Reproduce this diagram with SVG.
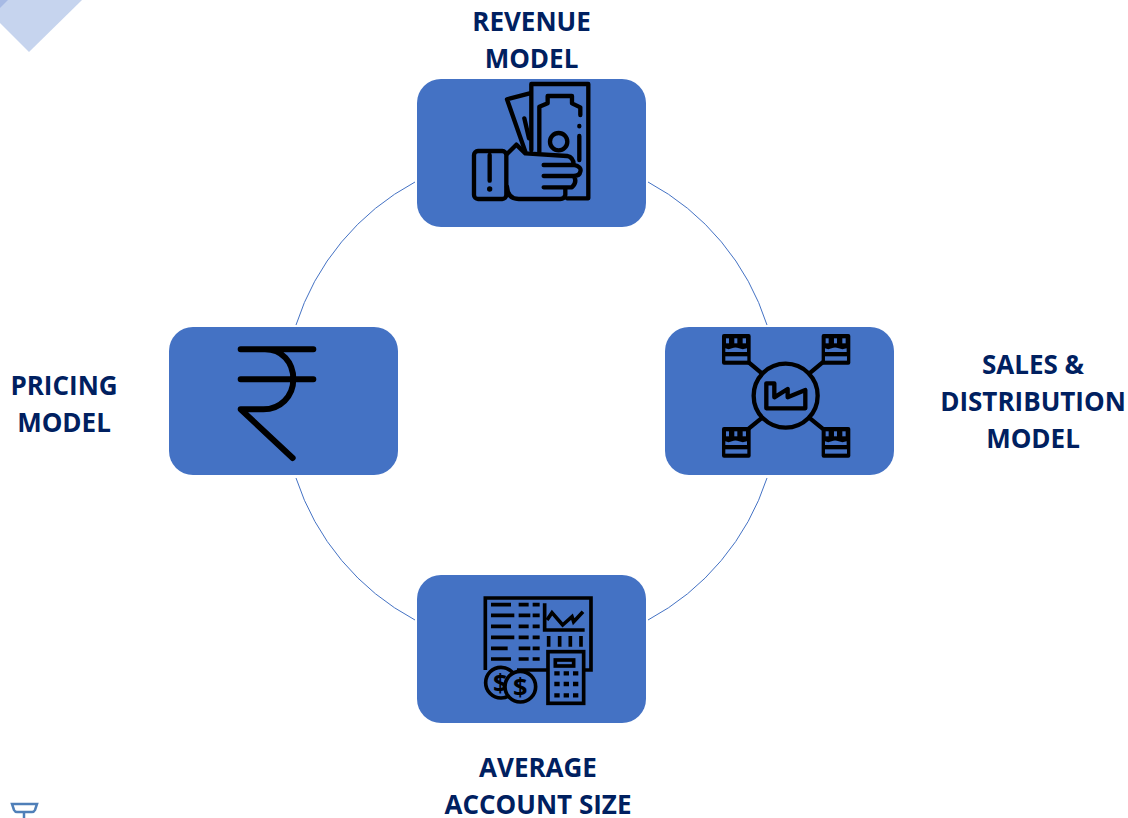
<svg xmlns="http://www.w3.org/2000/svg" width="1128" height="818" viewBox="0 0 1128 818">
<style>
.box{fill:#4472C4}
.arc{fill:none;stroke:#4472C4;stroke-width:1}
.lbl{font-family:"Open Sans","Liberation Sans",sans-serif;font-weight:700;font-size:26px;fill:#002060;text-anchor:middle}
.ico{fill:none;stroke:#000;stroke-width:13;stroke-linecap:round;stroke-linejoin:round}
.bar{fill:none;stroke:#000;stroke-width:11}
.key{fill:none;stroke:#000;stroke-width:13}
.rup{fill:none;stroke:#000;stroke-width:18;stroke-linecap:round;stroke-linejoin:round}
.coin{fill:#4472C4;stroke:#000;stroke-width:11}
.dol{font-family:"Open Sans","Liberation Sans",sans-serif;font-size:76px;font-weight:700;text-anchor:middle;fill:#000}
.k{fill:#000}
.w{fill:#4472C4}
</style>
<defs>
<g id="store">
<rect width="86" height="92" rx="6" class="k"/>
<rect x="12" y="13" width="9" height="15" class="w"/><rect x="37" y="13" width="9" height="15" class="w"/><rect x="62" y="13" width="10" height="15" class="w"/>
<path d="M10 43Q20 48 30 43T51 43T75 43V54H10Z" class="w"/>
<rect x="10" y="67" width="66" height="13" class="w"/>
</g>
</defs>
<rect width="1128" height="818" fill="#fff"/>
<g id="decor">
<path d="M0 0H82L29 52L0 23Z" fill="#C6D4EE"/>
<path d="M0 0H8L0 8Z" fill="#A7BAE4"/>
<path d="M12 804H37L35 810Q34 812 32 812H17Q15 812 14 810Z" fill="none" stroke="#4F7FB8" stroke-width="2.500"/>
<path d="M24 812V818" stroke="#4F7FB8" stroke-width="2.500"/>
</g>
<g id="connectors">
<path class="arc" d="M648 182A248 248 0 0 1 767 325"/>
<path class="arc" d="M767 478A248 248 0 0 1 648 620"/>
<path class="arc" d="M415 620A248 248 0 0 1 296 478"/>
<path class="arc" d="M296 325A248 248 0 0 1 415 182"/>
</g>
<g id="node-revenue">
<rect class="box" x="417" y="79" width="229" height="148" rx="24"/>
<g transform="translate(417 70) scale(.3333)">
<path class="ico" d="M343 240V42H514V385H450"/>
<path class="ico" d="M367 245V110L392 100V78H465V100L490 112V135"/>
<path class="ico" d="M487 168V169M487 198V270"/>
<circle class="ico" cx="425" cy="215" r="26"/>
<path class="ico" d="M338 70L270 88L325 245M322 145L336 205"/>
<rect class="ico" x="171" y="243" width="97" height="144" rx="12"/>
<path class="ico" d="M218 255V332"/>
<circle class="k" cx="218" cy="357" r="8"/>
<path class="ico" d="M270 252L298 224L325 250L450 258Q470 262 470 285H380M470 285Q495 290 490 305Q488 318 470 318H380M470 318Q482 335 465 352H380M445 352V375Q442 387 430 387H305Q272 387 270 350"/>
</g>
<text class="lbl" x="531.500" y="31">REVENUE</text>
<text class="lbl" x="531.500" y="68">MODEL</text>
</g>
<g id="node-sales">
<rect class="box" x="665" y="327" width="229" height="148" rx="24"/>
<g transform="translate(665 320) scale(.3333)">
<use href="#store" x="171" y="42"/><use href="#store" x="470" y="42"/><use href="#store" x="171" y="321"/><use href="#store" x="470" y="321"/>
<path class="ico" d="M252 128L288 158M472 128L436 158M252 325L288 296M472 325L436 296"/>
<circle class="ico" cx="362" cy="227" r="96"/>
<path class="ico" d="M304 190H328V232L368 207V232L421 210V265H304Z"/>
</g>
<text class="lbl" x="1033" y="374">SALES &amp;</text>
<text class="lbl" x="1033" y="411">DISTRIBUTION</text>
<text class="lbl" x="1033" y="448">MODEL</text>
</g>
<g id="node-account">
<rect class="box" x="417" y="575" width="229" height="148" rx="24"/>
<g transform="translate(417 570) scale(.3333)">
<path class="bar" d="M205 300V84H522V300H500M393 300H300"/>
<path class="bar" d="M222 104H282M222 136H292M222 169H282M222 202H292M222 235H272M222 267H282M305 104H335M305 136H340M305 169H335M305 202H335M305 235H340M305 267H335M347 104H368M347 136H368M347 169H368M347 202H368M347 235H368M347 267H368"/>
<path class="bar" d="M383 100V180H503M395 198V230M428 198V230M460 198V230M492 198V230"/>
<path class="bar" d="M390 150L405 128L437 165L465 140L470 155L498 125"/>
<rect class="bar" x="393" y="245" width="107" height="155"/>
<rect class="bar" x="415" y="270" width="55" height="18"/>
<path class="key" d="M412 310H428M440 310H456M468 310H484M412 342H428M440 342H456M468 342H484M412 376H428M440 376H456M468 376H484"/>
<circle class="coin" cx="252" cy="338" r="46"/>
<text class="dol" x="250" y="366">$</text>
<circle class="coin" cx="310" cy="350" r="46"/>
<text class="dol" x="310" y="377">$</text>
</g>
<text class="lbl" x="538" y="777">AVERAGE</text>
<text class="lbl" x="538" y="813.500">ACCOUNT SIZE</text>
</g>
<g id="node-pricing">
<rect class="box" x="169" y="327" width="229" height="148" rx="24"/>
<g transform="translate(165 320) scale(.3333)">
<path class="rup" d="M227 88H445M227 178H445M300 88C350 88 385 125 385 178C385 230 345 268 295 268H227L383 414"/>
</g>
<text class="lbl" x="64" y="395">PRICING</text>
<text class="lbl" x="64" y="432">MODEL</text>
</g>
</svg>
